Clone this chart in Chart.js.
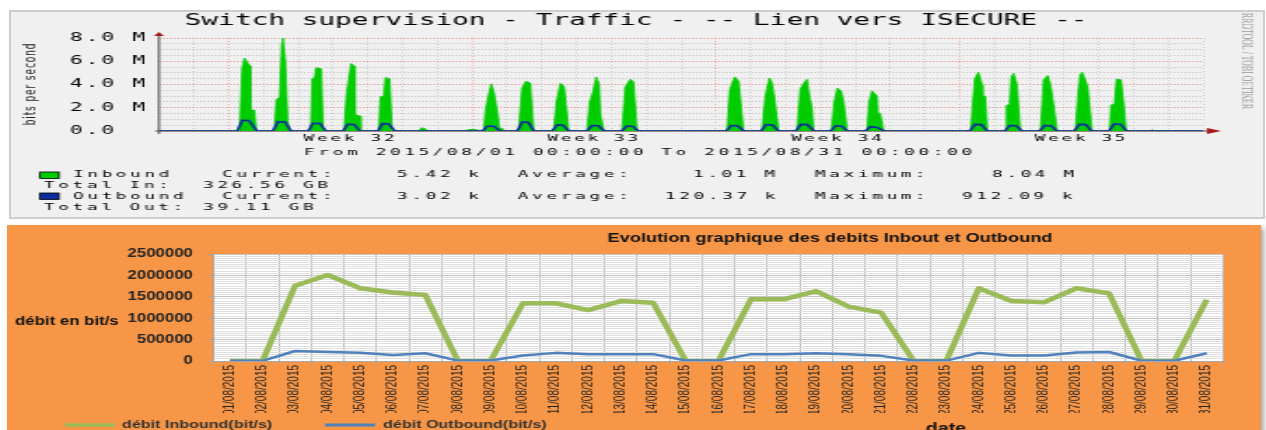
<!DOCTYPE html>
<html>
<head>
<meta charset="utf-8">
<title>Switch supervision - Traffic</title>
<script src="https://cdn.jsdelivr.net/npm/chart.js@4.4.1/dist/chart.umd.min.js"></script>
<style>
    html, body { margin: 0; padding: 0; background: #fff; }
    body { position: relative; width: 1266px; height: 430px; overflow: hidden; }
    #rrdPanel { position: absolute; left: 9px; top: 10px; width: 1252px; height: 205px; background: #f0f0f0; border: 2px solid #cdcdcd; }
    #excelPanel { position: absolute; left: 7px; top: 225px; width: 1254px; height: 215px; background: #f79646; box-shadow: 3px 3px 5px rgba(0, 0, 0, 0.35); }
    #topChart { position: absolute; left: 0; top: 0; }
    #bottomChart { position: absolute; left: 0; top: 220px; }
</style>
</head>
<body>
<div id="rrdPanel"></div>
<div id="excelPanel"></div>
<canvas id="topChart" width="684" height="220" style="width:1266px;height:220px"></canvas>
<canvas id="bottomChart" width="904" height="210" style="width:1266px;height:210px"></canvas>

<script>
/* =========================================
   Trafic du lien ISECURE - aout 2015
   haut : graphe rrdtool / bas : graphe Excel
========================================= */

// ---------- graphe rrdtool : [jour d'aout, heure, valeur en M bit/s] ----------
const inboundWeek32 = [
    [1, 0, 0],
    [3, 7.6, 0], [3, 9.3, 5.4], [3, 11, 6.27], [3, 13.1, 5.85], [3, 14.8, 5.6], [3, 15.1, 1.8], [3, 17.7, 1.8], [3, 19.1, 0],
    [4, 7.5, 0], [4, 8.9, 2.7], [4, 11.2, 2.9], [4, 12.6, 7.6], [4, 13.4, 8.04], [4, 15.1, 6.0], [4, 16.7, 0.9], [4, 18.1, 0],
    [5, 8.6, 0], [5, 9.6, 4.5], [5, 11.2, 4.6], [5, 12.4, 5.45], [5, 15.8, 5.35], [5, 17.2, 0],
    [6, 7.5, 0], [6, 9.3, 3.2], [6, 12.4, 5.8], [6, 14.4, 5.6], [6, 15, 1.4], [6, 18.5, 1.3], [6, 19, 0],
    [7, 7.5, 0], [7, 8.6, 2.95], [7, 10.9, 3.0], [7, 12.1, 4.6], [7, 15, 4.5], [7, 16.7, 0],
    [8, 11, 0], [8, 13, 0.28], [8, 15.5, 0.2], [8, 17, 0],
    [9, 20, 0], [9, 21, 0.12]
];
const inboundWeek33 = [
    [10, 2.5, 0.12], [10, 3.5, 0],
    [10, 7.8, 0], [10, 9, 1.7], [10, 11, 3.0], [10, 13.1, 4.05], [10, 15, 3.3], [10, 17.5, 1.5], [10, 18.5, 0.3], [10, 21, 0.2], [10, 21.6, 0],
    [11, 7.9, 0], [11, 10.3, 3.7], [11, 13.2, 4.3], [11, 16, 4.1], [11, 18.3, 0],
    [12, 8.1, 0], [12, 10, 2.5], [12, 12.7, 4.1], [12, 15.4, 3.8], [12, 18.4, 0],
    [13, 7.1, 0], [13, 8.9, 2.5], [13, 11, 3.3], [13, 13.5, 4.65], [13, 15.5, 4.0], [13, 16.3, 1.5], [13, 18.6, 0],
    [14, 7.2, 0], [14, 9.5, 3.8], [14, 13, 4.45], [14, 15.2, 4.2], [14, 17.6, 0]
];
const inboundWeek34 = [
    [17, 7.6, 0], [17, 9.4, 3.5], [17, 12.8, 4.65], [17, 15.6, 4.3], [17, 19, 0],
    [18, 7.7, 0], [18, 10, 3.0], [18, 12.8, 4.55], [18, 14.5, 4.2], [18, 16.2, 3.0], [18, 19.2, 0],
    [19, 7.9, 0], [19, 10.1, 3.6], [19, 12.5, 4.1], [19, 14.8, 4.45], [19, 16.5, 3.0], [19, 18.2, 2.0], [19, 19.3, 0],
    [20, 7.5, 0], [20, 9.5, 2.5], [20, 11.7, 3.7], [20, 14.4, 3.4], [20, 16, 2.5], [20, 18.5, 0],
    [21, 8.1, 0], [21, 9.5, 2.5], [21, 11.6, 3.45], [21, 15, 3.0], [21, 15.6, 1.55], [21, 17.3, 1.5], [21, 19.6, 0]
];
const inboundWeek35 = [
    [24, 7.6, 0], [24, 8.8, 2.0], [24, 10.5, 4.5], [24, 12.9, 5.06], [24, 15.4, 4.0], [24, 15.8, 3.0], [24, 17.7, 3.0], [24, 19.1, 0],
    [25, 7.5, 0], [25, 8.3, 2.2], [25, 10.5, 2.3], [25, 11.5, 4.6], [25, 13.2, 4.97], [25, 15.5, 4.0], [25, 17.9, 0],
    [26, 7.7, 0], [26, 9.9, 4.4], [26, 12.7, 4.77], [26, 14.6, 4.0], [26, 16.5, 2.5], [26, 19.2, 0],
    [27, 7.8, 0], [27, 9.5, 3.0], [27, 11, 4.8], [27, 12.4, 5.06], [27, 14, 4.6], [27, 16.3, 3.8], [27, 19.3, 0],
    [28, 7.5, 0], [28, 8.4, 2.24], [28, 10.7, 2.3], [28, 12.1, 4.46], [28, 15.3, 4.4], [28, 17, 2.5], [28, 18.8, 0],
    [29, 12, 0], [29, 12.7, 0.12], [29, 13.5, 0],
    [31, 0, 0]
];

const outboundWeek32 = [
    [1, 0, 0],
    [3, 6, 0], [3, 9.4, 0.92], [3, 14, 0.9], [3, 19.5, 0],
    [4, 6.5, 0], [4, 10, 0.8], [4, 15, 0.78], [4, 19, 0],
    [5, 7, 0], [5, 10, 0.66], [5, 15, 0.64], [5, 19, 0],
    [6, 7, 0], [6, 10, 0.58], [6, 14.5, 0.56], [6, 18.5, 0],
    [7, 7, 0], [7, 10, 0.63], [7, 14.5, 0.6], [7, 18.5, 0]
];
const outboundWeek33 = [
    [10, 7, 0], [10, 10.5, 0.43], [10, 15, 0.4], [10, 19, 0],
    [11, 7, 0], [11, 10.5, 0.78], [11, 14.5, 0.75], [11, 18.5, 0],
    [12, 7, 0], [12, 10.5, 0.52], [12, 14.5, 0.5], [12, 18.5, 0],
    [13, 7, 0], [13, 10.5, 0.47], [13, 15, 0.45], [13, 19, 0],
    [14, 7, 0], [14, 10.5, 0.43], [14, 14.5, 0.4], [14, 18.5, 0]
];
const outboundWeek34 = [
    [17, 7, 0], [17, 10.5, 0.47], [17, 15, 0.45], [17, 19, 0],
    [18, 7, 0], [18, 10.5, 0.55], [18, 15, 0.52], [18, 19, 0],
    [19, 7, 0], [19, 10.5, 0.57], [19, 15, 0.55], [19, 19.5, 0],
    [20, 7, 0], [20, 10.5, 0.45], [20, 14.5, 0.42], [20, 18.5, 0],
    [21, 7, 0], [21, 10.5, 0.37], [21, 15, 0.3], [21, 20, 0]
];
const outboundWeek35 = [
    [24, 7, 0], [24, 10.5, 0.57], [24, 15, 0.55], [24, 19, 0],
    [25, 7, 0], [25, 10.5, 0.46], [25, 15, 0.45], [25, 19, 0],
    [26, 7, 0], [26, 10.5, 0.46], [26, 15, 0.45], [26, 19, 0],
    [27, 7, 0], [27, 10.5, 0.57], [27, 15, 0.55], [27, 19, 0],
    [28, 7, 0], [28, 10.5, 0.6], [28, 15, 0.58], [28, 19, 0],
    [31, 0, 0]
];

const weekTickDays = [5.5, 12.5, 19.5, 26.5];     // jeudi midi de chaque semaine
const weekLabels = ['Week 32', 'Week 33', 'Week 34', 'Week 35'];
const mondayTicks = [2, 9, 16, 23];               // lundis 00:00 (lignes rouges)

const rrdTitle = 'Switch supervision - Traffic - -- Lien vers ISECURE --';
const rrdPeriod = 'From 2015/08/01 00:00:00 To 2015/08/31 00:00:00';
const rrdInboundRow = ['Inbound', 'Current:', '5.42 k', 'Average:', '1.01 M', 'Maximum:', '8.04 M'];
const rrdTotalInRow = ['Total In:', '326.56 GB'];
const rrdOutboundRow = ['Outbound', 'Current:', '3.02 k', 'Average:', '120.37 k', 'Maximum:', '912.09 k'];
const rrdTotalOutRow = ['Total Out:', '39.11 GB'];

// ---------- graphe Excel : debit moyen journalier (bit/s) ----------
const dates = [
    '01/08/2015', '02/08/2015', '03/08/2015', '04/08/2015', '05/08/2015', '06/08/2015', '07/08/2015',
    '08/08/2015', '09/08/2015', '10/08/2015', '11/08/2015', '12/08/2015', '13/08/2015', '14/08/2015',
    '15/08/2015', '16/08/2015', '17/08/2015', '18/08/2015', '19/08/2015', '20/08/2015', '21/08/2015',
    '22/08/2015', '23/08/2015', '24/08/2015', '25/08/2015', '26/08/2015', '27/08/2015', '28/08/2015',
    '29/08/2015', '30/08/2015', '31/08/2015'
];
const inboundDaily = [
    0, 0, 1760000, 2010000, 1700000, 1600000, 1540000, 0, 0, 1350000, 1350000, 1190000, 1400000, 1360000,
    0, 0, 1440000, 1440000, 1630000, 1270000, 1130000, 0, 0, 1700000, 1400000, 1370000, 1700000, 1580000,
    0, 0, 1430000
];
const outboundDaily = [
    5000, 5000, 234000, 210000, 195000, 140000, 180000, 10000, 10000, 130000, 190000, 160000, 160000, 160000,
    10000, 10000, 160000, 160000, 180000, 160000, 120000, 10000, 10000, 190000, 130000, 130000, 200000, 210000,
    5000, 5000, 180000
];


// l'image d'origine est etiree horizontalement : on dessine dans un canvas plus etroit
const S1 = 1266 / 684;
const S2 = 1266 / 904;

function toPoints(rows) {
    return rows.map(r => ({x: (r[0] - 1) + r[1] / 24, y: r[2]}));
}

function drawRow(ctx, texts, pageXs, y) {
    texts.forEach((t, i) => ctx.fillText(t, pageXs[i] / S1, y));
}

const rrdDecor = {
    id: 'rrdDecor',
    beforeDraw(chart) {
        chart.ctx.letterSpacing = '1.5px';
    },
    beforeDatasetsDraw(chart) {
        const ctx = chart.ctx;
        const a = chart.chartArea;
        ctx.save();
        ctx.strokeStyle = '#4a4a4a';
        ctx.lineWidth = 1;
        ctx.beginPath();
        ctx.moveTo(a.left, a.bottom + 3);
        ctx.lineTo(a.left, a.top - 3);
        ctx.moveTo(a.left - 2, a.bottom);
        ctx.lineTo(1208 / S1, a.bottom);
        ctx.stroke();
        // fleches rouges
        ctx.fillStyle = '#a81818';
        ctx.beginPath();
        ctx.moveTo(a.left - 5 / S1, a.top - 2);
        ctx.lineTo(a.left + 5 / S1, a.top - 2);
        ctx.lineTo(a.left, a.top - 6);
        ctx.closePath();
        ctx.fill();
        ctx.beginPath();
        ctx.moveTo(1207 / S1, a.bottom - 3);
        ctx.lineTo(1207 / S1, a.bottom + 3);
        ctx.lineTo(1221 / S1, a.bottom);
        ctx.closePath();
        ctx.fill();
        ctx.restore();
    },
    afterDraw(chart) {
        const ctx = chart.ctx;
        ctx.save();
        ctx.fillStyle = '#000';
        ctx.textBaseline = 'middle';

        ctx.font = '15px "DejaVu Sans Mono"';
        ctx.letterSpacing = '0px';
        ctx.textAlign = 'center';
        ctx.fillText(rrdTitle, 636 / S1, 21);

        ctx.font = '9.5px "DejaVu Sans Mono"';
        ctx.letterSpacing = '2px';
        ctx.fillText(rrdPeriod, 640 / S1, 153);

        ctx.textAlign = 'left';
        drawRow(ctx, rrdInboundRow, [73, 222, 397, 518, 693, 815, 992], 175);
        drawRow(ctx, rrdTotalInRow, [44, 203], 185.5);
        drawRow(ctx, rrdOutboundRow, [73, 222, 397, 518, 665, 815, 962], 196.5);
        drawRow(ctx, rrdTotalOutRow, [44, 203], 207.5);

        // carres de legende
        ctx.lineWidth = 0.8;
        ctx.strokeStyle = '#000';
        ctx.fillStyle = '#00cc00';
        ctx.fillRect(40 / S1, 172, 19 / S1, 6.5);
        ctx.strokeRect(40 / S1, 172, 19 / S1, 6.5);
        ctx.fillStyle = '#0b2c9e';
        ctx.fillRect(40 / S1, 193, 19 / S1, 6.5);
        ctx.strokeRect(40 / S1, 193, 19 / S1, 6.5);

        // titre vertical
        ctx.fillStyle = '#222';
        ctx.font = '9px "DejaVu Sans"';
        ctx.letterSpacing = '0.9px';
        ctx.save();
        ctx.translate(30 / S1, 84);
        ctx.rotate(-Math.PI / 2);
        ctx.textAlign = 'center';
        ctx.fillText('bits per second', 0, 0);
        ctx.restore();

        ctx.fillStyle = '#9a9a9a';
        ctx.font = '7.8px "Liberation Sans Narrow"';
        ctx.letterSpacing = '0px';
        ctx.translate(1245 / S1, 13);
        ctx.rotate(Math.PI / 2);
        ctx.textAlign = 'left';
        ctx.fillText('RRDTOOL / TOBI OETIKER', 0, 0);
        ctx.restore();
        ctx.letterSpacing = '0px';
    }
};

new Chart(document.getElementById('topChart'), {
    type: 'line',
    data: {
        datasets: [{
            label: 'Outbound',
            data: toPoints([...outboundWeek32, ...outboundWeek33, ...outboundWeek34, ...outboundWeek35]),
            borderColor: '#0b2c9e',
            borderWidth: 1.6,
            pointRadius: 0,
            fill: false,
            order: 0
        }, {
            label: 'Inbound',
            data: toPoints([...inboundWeek32, ...inboundWeek33, ...inboundWeek34, ...inboundWeek35]),
            borderColor: '#00cc00',
            backgroundColor: '#00cc00',
            borderWidth: 0.8,
            pointRadius: 0,
            fill: 'origin',
            order: 1
        }]
    },
    options: {
        responsive: false,
        animation: false,
        devicePixelRatio: 1,
        layout: {
            padding: {left: 4, right: 684 - 1203.3 / S1, top: 38, bottom: 220 - 131 - 16}
        },
        plugins: {
            legend: {display: false},
            tooltip: {enabled: false}
        },
        scales: {
            x: {
                type: 'linear',
                min: 0,
                max: 30,
                ticks: {display: false, stepSize: 1, autoSkip: false},
                grid: {
                    color: c => mondayTicks.includes(c.tick.value) ? 'rgba(235, 90, 90, 0.6)' : '#c6c6c6',
                    lineWidth: 0.7,
                    drawTicks: false
                },
                border: {display: false, dash: [1, 2]},
                afterFit: s => { s.height = 0; }
            },
            xw: {
                type: 'linear',
                position: 'bottom',
                min: 0,
                max: 30,
                afterBuildTicks: s => { s.ticks = weekTickDays.map(v => ({value: v})); },
                ticks: {
                    autoSkip: false,
                    maxRotation: 0,
                    padding: 2,
                    color: '#000',
                    font: {family: '"DejaVu Sans Mono"', size: 9.5},
                    callback: (v, i) => weekLabels[i]
                },
                grid: {display: false, drawTicks: false},
                border: {display: false},
                afterFit: s => { s.height = 16; }
            },
            y: {
                min: 0,
                max: 8,
                ticks: {
                    stepSize: 0.5,
                    autoSkip: false,
                    padding: 6,
                    color: '#000',
                    font: {family: '"DejaVu Sans Mono"', size: 11.5},
                    callback: v => v % 2 !== 0 ? '' : (v === 0 ? '0.0  ' : v.toFixed(1) + ' M')
                },
                grid: {
                    color: c => c.tick.value % 2 === 0 ? 'rgba(235, 90, 90, 0.55)' : '#cacaca',
                    lineWidth: 1,
                    drawTicks: false
                },
                border: {display: false, dash: [1, 1]},
                afterFit: s => { s.width = 159 / S1 - 4; }
            }
        }
    },
    plugins: [rrdDecor]
});


const excelDecor = {
    id: 'excelDecor',
    beforeDraw(chart) {
        const {ctx, chartArea: a} = chart;
        ctx.save();
        ctx.fillStyle = '#fff';
        ctx.fillRect(a.left, a.top, a.width, a.height);
        ctx.restore();
    },
    afterDraw(chart) {
        const ctx = chart.ctx;
        ctx.save();
        ctx.textBaseline = 'middle';
        ctx.fillStyle = '#111';
        ctx.font = 'bold 13px "Liberation Sans"';
        ctx.textAlign = 'center';
        ctx.fillText('Evolution graphique des debits Inbout et Outbound', 830 / S2, 18.5);

        ctx.font = 'bold 12px "Liberation Sans"';
        ctx.textAlign = 'left';
        ctx.fillText('débit en bit/s', 15 / S2, 101.5);

        ctx.textAlign = 'center';
        ctx.textBaseline = 'alphabetic';
        ctx.font = 'bold 14px "Liberation Sans"';
        ctx.fillText('date', 946 / S2, 213);

        // legende
        ctx.textBaseline = 'middle';
        ctx.textAlign = 'left';
        ctx.font = 'bold 11.5px "Liberation Sans"';
        ctx.fillStyle = '#333';
        ctx.lineWidth = 3.5;
        ctx.strokeStyle = '#9bbb59';
        ctx.beginPath();
        ctx.moveTo(65 / S2, 205);
        ctx.lineTo(115 / S2, 205);
        ctx.stroke();
        ctx.fillText('débit Inbound(bit/s)', 122 / S2, 205);
        ctx.lineWidth = 3;
        ctx.strokeStyle = '#4f81bd';
        ctx.beginPath();
        ctx.moveTo(325 / S2, 205);
        ctx.lineTo(375 / S2, 205);
        ctx.stroke();
        ctx.fillText('débit Outbound(bit/s)', 383 / S2, 205);
        ctx.restore();
    }
};

new Chart(document.getElementById('bottomChart'), {
    type: 'line',
    data: {
        labels: dates,
        datasets: [{
            label: 'débit Outbound(bit/s)',
            data: outboundDaily,
            borderColor: '#4f81bd',
            borderWidth: 2.5,
            borderJoinStyle: 'round',
            pointRadius: 0,
            tension: 0,
            order: 0
        }, {
            label: 'débit Inbound(bit/s)',
            data: inboundDaily,
            borderColor: '#9bbb59',
            borderWidth: 4.5,
            borderJoinStyle: 'round',
            pointRadius: 0,
            tension: 0,
            order: 1
        }]
    },
    options: {
        responsive: false,
        animation: false,
        devicePixelRatio: 1,
        layout: {
            padding: {left: 90, right: 904 - 1223 / S2, top: 34, bottom: 17}
        },
        plugins: {
            legend: {display: false},
            tooltip: {enabled: false}
        },
        scales: {
            x: {
                offset: true,
                grid: {offset: true, color: '#b5b5b5', tickColor: '#a6a6a6', tickLength: 3},
                border: {color: '#a6a6a6'},
                ticks: {
                    minRotation: 90,
                    maxRotation: 90,
                    autoSkip: false,
                    padding: 1,
                    color: '#262626',
                    font: {family: '"Liberation Sans"', size: 10}
                },
                afterFit: s => { s.height = 52; }
            },
            y: {
                min: 0,
                max: 2500000,
                ticks: {
                    stepSize: 50000,
                    autoSkip: false,
                    padding: 9.8,
                    color: '#262626',
                    font: {family: '"Liberation Sans"', size: 12, weight: 'bold'},
                    callback: v => v % 500000 === 0 ? String(v) : ''
                },
                grid: {
                    color: c => c.tick.value % 500000 === 0 ? '#c4c4c4' : '#dedede',
                    tickColor: c => c.tick.value % 500000 === 0 ? '#a6a6a6' : 'rgba(0,0,0,0)',
                    tickLength: 5
                },
                border: {color: '#a6a6a6'},
                afterFit: s => { s.width = 213.7 / S2 - 90; }
            }
        }
    },
    plugins: [excelDecor]
});
</script>
</body>
</html>
